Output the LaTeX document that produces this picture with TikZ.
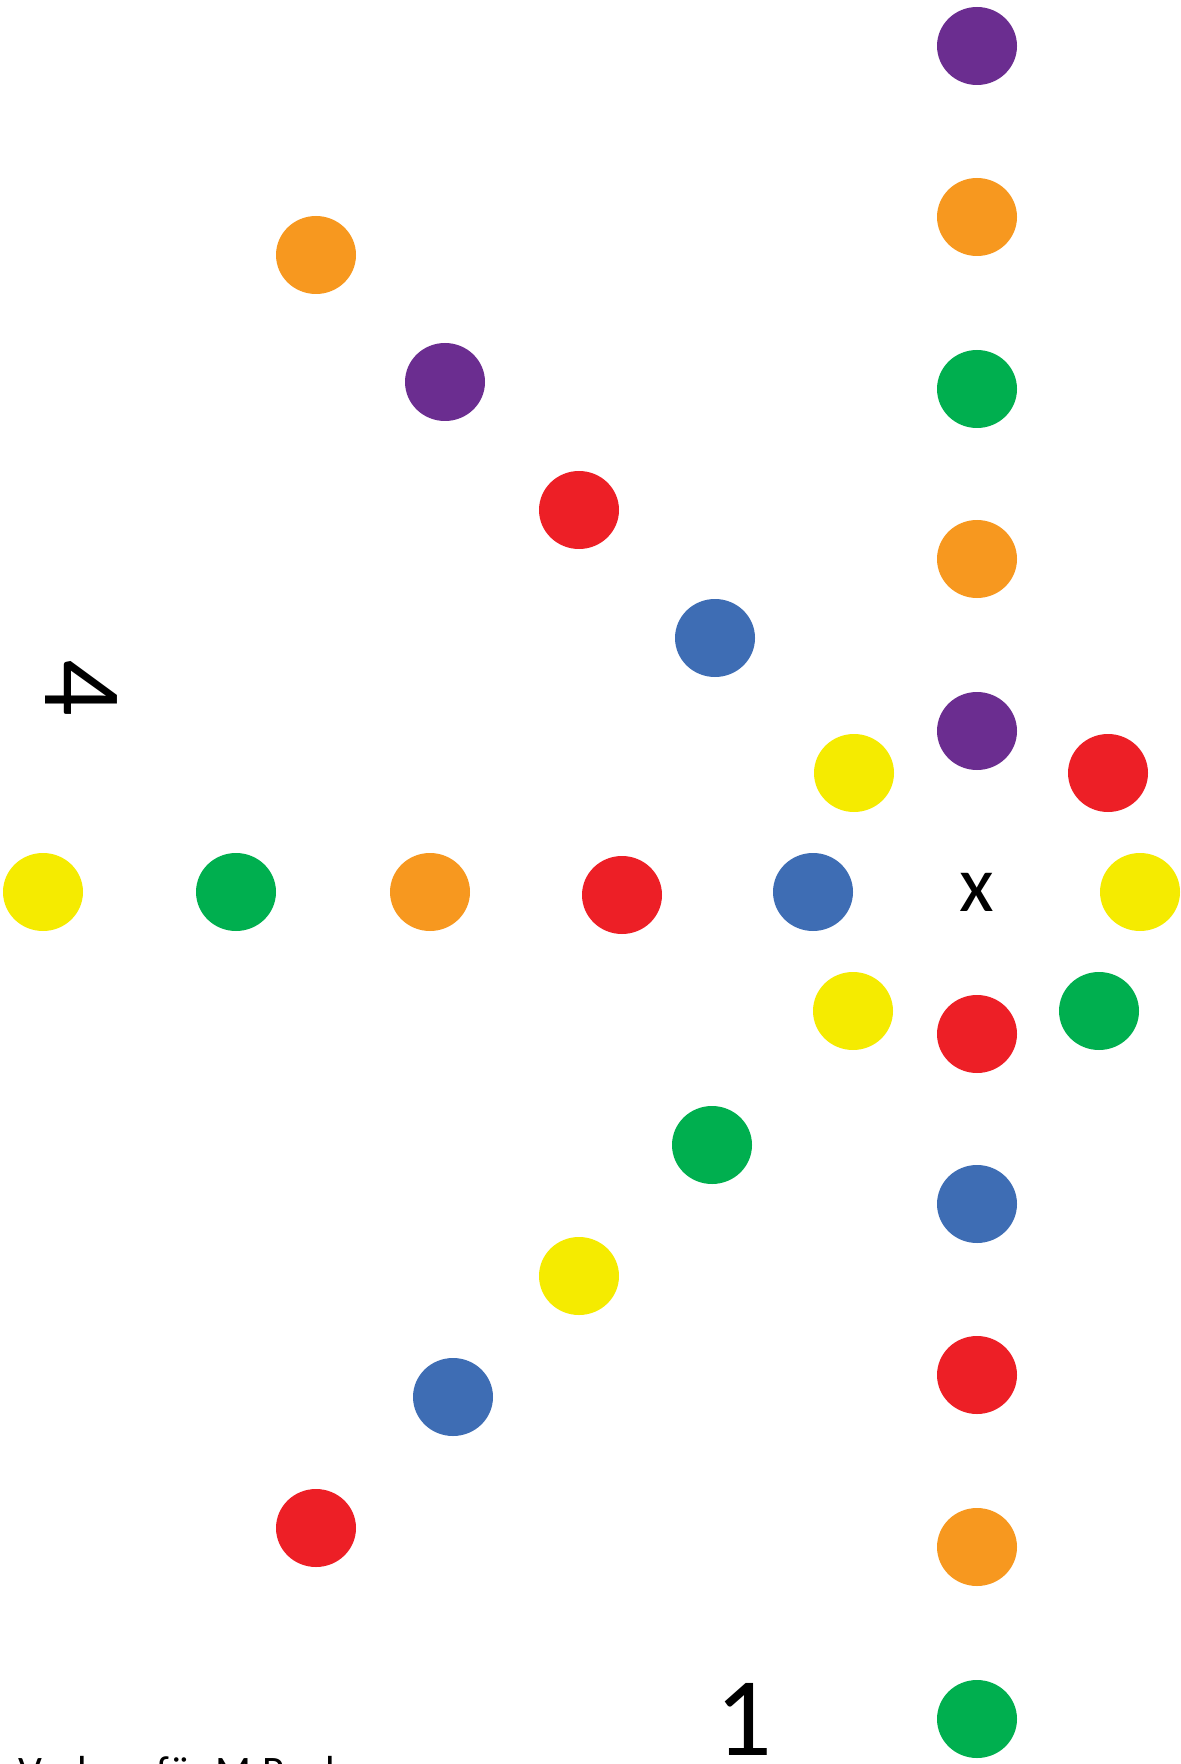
\documentclass[tikz,border=0pt]{standalone}
\usepackage{fontspec}
\setmainfont{Carlito}
\usepackage{tikz}
\usepackage{xcolor}
\usetikzlibrary{shapes.geometric}
\definecolor{beadpurple}{HTML}{6B2D90}
\definecolor{beadorange}{HTML}{F7981F}
\definecolor{beadgreen}{HTML}{00AF4F}
\definecolor{beadred}{HTML}{ED1F26}
\definecolor{beadblue}{HTML}{3E6DB4}
\definecolor{beadyellow}{HTML}{F5EB00}

\begin{document}
\begin{tikzpicture}[x=0.5pt,y=-0.5pt,
    bead/.style={ellipse,minimum width=40pt,minimum height=39pt,inner sep=0pt}]
    \useasboundingbox (0,0) rectangle (1180,1764);
    % right column
    \foreach \y/\c [count=\i] in {46/purple,217/orange,389/green,559/orange,731/purple,
        1034/red,1204/blue,1375/red,1547/orange,1719/green}
    {
        \node[bead,fill=bead\c] (col\i) at (977,\y) {};
    }
    % upper diagonal
    \foreach \x/\y/\c [count=\i] in {316/255/orange,445/382/purple,579/510/red,
        715/638/blue,854/773/yellow}
    {
        \node[bead,fill=bead\c] (up\i) at (\x,\y) {};
    }
    % lower diagonal
    \foreach \x/\y/\c [count=\i] in {316/1528/red,453/1397/blue,579/1276/yellow,
        712/1145/green,853/1011/yellow}
    {
        \node[bead,fill=bead\c] (low\i) at (\x,\y) {};
    }
    % middle row
    \foreach \x/\y/\c [count=\i] in {43/892/yellow,236/892/green,430/892/orange,
        622/895/red,813/892/blue,1140/892/yellow}
    {
        \node[bead,fill=bead\c] (row\i) at (\x,\y) {};
    }
    \node[bead,fill=beadred] (upright) at (1108,773) {};
    \node[bead,fill=beadgreen] (lowright) at (1099,1011) {};
    \node[inner sep=0pt,font=\fontsize{40}{44}\selectfont] (centre) at (977,892) {x};
    \node[inner sep=0pt,rotate=-90,font=\fontsize{56}{60}\selectfont] (four) at (81,688) {4};
    \node[inner sep=0pt,anchor=base,font=\fontsize{56}{60}\selectfont] (one) at (744,1755) {1};
    \node[inner sep=0pt,anchor=base west,font=\fontsize{21}{25}\selectfont] (note) at (18,1785)
        {Vorlage für M.Paul};
\end{tikzpicture}
\end{document}
